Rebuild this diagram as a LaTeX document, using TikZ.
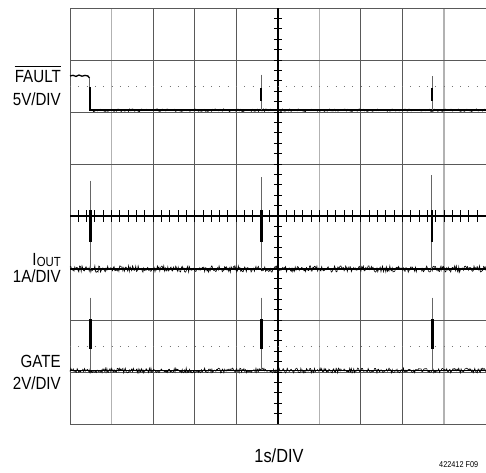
\documentclass[tikz,border=0pt]{standalone}
\usepackage{fontspec}
\setmainfont{Liberation Sans}[FakeStretch=0.86]
\begin{document}
\begin{tikzpicture}[x=1pt,y=-1pt,
  gridd/.style={draw=black!65,line width=0.9pt},
  gridl/.style={draw=black!30,line width=1.1pt},
  axisline/.style={draw=black,line width=1.5pt},
  tickline/.style={draw=black,line width=0.9pt},
  dotline/.style={draw=black!55,line width=0.8pt,dash pattern=on 0.8pt off 7.5pt},
  trace/.style={draw=black,line width=1.6pt},
  noise/.style={draw=black,line width=0.6pt},
  thinsp/.style={draw=black!60,line width=0.9pt},
  thicksp/.style={draw=black,line width=2.6pt},
  lbl/.style={font=\fontsize{17.6}{20}\selectfont,inner sep=0pt,anchor=base east},
]
\useasboundingbox[fill=white] (0,0) rectangle (486,472);
% grid
\foreach \i in {2,3,4,7,8} \draw[gridd] ({70+41.55*\i},8) -- ({70+41.55*\i},424);
\foreach \i in {1,6,9} \draw[gridl] ({70+41.55*\i},8) -- ({70+41.55*\i},424);
\foreach \j in {0,1,2,3,5,6,7,8} \draw[gridd] (70,{8+52*\j}) -- (486,{8+52*\j});
\draw[gridd] (70,8) -- (70,424);
% axes
\draw[axisline] (277.75,8) -- (277.75,424);
\draw[axisline] (70,216) -- (486,216);
\foreach \k in {1,...,49} \draw[tickline] ({70+8.31*\k},210) -- ({70+8.31*\k},222);
\foreach \k in {1,...,39} \draw[tickline] (273.75,{8+10.4*\k}) -- (281.75,{8+10.4*\k});
% dotted references
\draw[dotline] (70,86) -- (486,86);
\draw[dotline] (70,346) -- (486,346);
\pgfmathsetseed{7}
% FAULT trace
\draw[black,line width=1.3pt,line join=miter] (70,76) -- (73,75.3) -- (76,76.4) -- (79,75) -- (82,76.2) -- (85,75.4) -- (88,76) -- (89.5,78);
\draw[thinsp] (89.5,78) -- (89.5,88);
\draw[black,line width=2pt] (90,87) -- (90,111);
\draw[trace,line width=1.8pt] (90,110.2) -- (486,110.2);
\draw[noise] plot[domain=90:486,samples=330] (\x,{110.2+1.3*rand});
\foreach \sx/\ty in {261/74.5,432/76} {
  \draw[thinsp] (\sx,\ty) -- (\sx,87.5);
  \draw[thicksp] (\sx,87.5) -- (\sx,100.5);
  \draw[thinsp] (\sx,100.5) -- (\sx,110);
}
% IOUT trace
\draw[trace,line width=2.4pt] (70,269) -- (486,269);
\draw[noise] plot[domain=70:486,samples=520] (\x,{269+3.2*rand});
\foreach \sx/\ty in {90.5/180.5,261.5/177,431.8/175} {
  \draw[thinsp] (\sx,\ty) -- (\sx,211);
  \draw[thicksp] (\sx,210) -- (\sx,241.5);
  \draw[thinsp] (\sx,241.5) -- (\sx,269);
}
% GATE trace
\draw[trace,line width=1.9pt] (70,370.5) -- (486,370.5);
\draw[noise] plot[domain=70:486,samples=520] (\x,{370.5+2.4*rand});
\foreach \sx in {90.5,261.5,432.5} {
  \draw[thinsp] (\sx,297.5) -- (\sx,320);
  \draw[thicksp] (\sx,319) -- (\sx,349);
  \draw[thinsp] (\sx,349) -- (\sx,370);
}
% labels
\node[lbl] (fault) at (61,82.7) {FAULT};
\draw[line width=0.9pt] ([yshift=3.8pt]fault.north west) -- ([yshift=3.8pt]fault.north east);
\node[lbl] (v5) at (61,105) {5V/DIV};
\node[lbl] (iout) at (61,265.5) {I\kern0.3pt\raisebox{-0.8pt}{\fontsize{13.2}{15}\selectfont OUT}};
\node[lbl] (a1) at (61,282) {1A/DIV};
\node[lbl] (gate) at (61,367.7) {GATE};
\node[lbl] (v2) at (61,389.3) {2V/DIV};
\node[font=\fontsize{19}{22}\selectfont,inner sep=0pt,anchor=base] (tdiv) at (279,462.7) {1s/DIV};
\node[font=\fontsize{8.5}{10}\selectfont,inner sep=0pt,anchor=base west] (fig) at (439,467.5) {422412 F09};
\end{tikzpicture}
\end{document}
